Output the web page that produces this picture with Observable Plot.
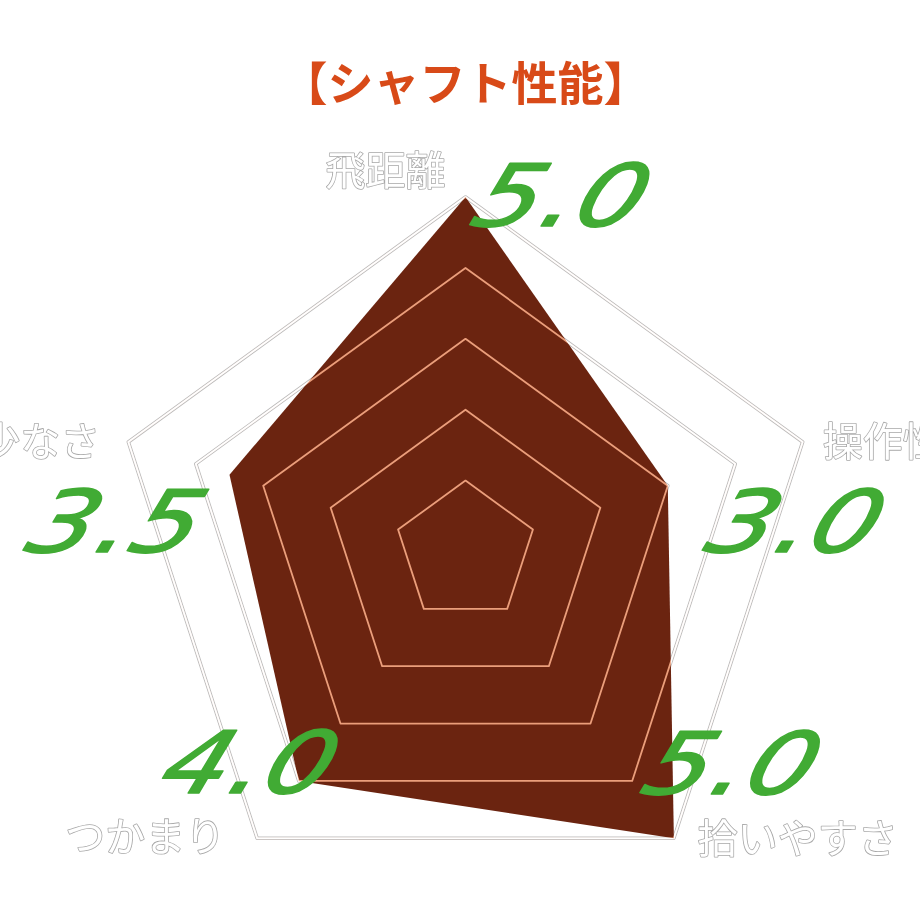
<!DOCTYPE html>
<html>
<head>
<meta charset="utf-8">
<script src="https://cdn.jsdelivr.net/npm/d3@7"></script>
<script src="https://cdn.jsdelivr.net/npm/@observablehq/plot@0.6"></script>
<style>
  html, body { margin: 0; padding: 0; background: #ffffff; }
  #chart svg { display: block; }
</style>
</head>
<body>
<div id="chart"></div>
<script>
// ---- data ----
const title = "【シャフト性能】";
const axes = ["飛距離", "操作性", "拾いやすさ", "つかまり", "スピンの少なさ"];
const values = [5.0, 3.0, 5.0, 4.0, 3.5];
const valueLabels = ["5.0", "3.0", "5.0", "4.0", "3.5"];
const ringLevels = [1, 2, 3, 4, 5];

// ---- layout (not data) ----
const labelLayout = [
  {dx: -80, dy: -25, anchor: "middle"},
  {dx: 20, dy: 1, anchor: "start"},
  {dx: 24, dy: 2, anchor: "start"},
  {dx: -32, dy: 0, anchor: "end"},
  {dx: -28, dy: 1, anchor: "end"}
];
const valueLayout = [
  {dx: 97, dy: 1},
  {dx: 129, dy: 39},
  {dx: 59, dy: -72},
  {dx: -48, dy: -15},
  {dx: -112, dy: 50}
];

const n = axes.length;
const angle = i => (i * 2 * Math.PI) / n;
const px = (i, r) => r * Math.sin(angle(i));
const py = (i, r) => r * Math.cos(angle(i));

const ringPts = ringLevels.flatMap(lv => axes.map((a, i) => ({ring: lv, x: px(i, lv), y: py(i, lv)})));
const dataPts = axes.map((a, i) => ({axis: a, value: values[i], label: valueLabels[i], x: px(i, values[i]), y: py(i, values[i])}));
const outerMax = d3.max(ringLevels);

// scale: center at (465, 551) pixels, 70.9 px per unit
const unit = 70.9, cx = 465, cy = 551, W = 920, H = 920;

const marks = [
  Plot.line(ringPts, {x: "x", y: "y", z: "ring", curve: "linear-closed", stroke: "#bdbdbd", strokeWidth: 3.6}),
  Plot.line(ringPts, {x: "x", y: "y", z: "ring", curve: "linear-closed", stroke: "#ffffff", strokeWidth: 1.6}),
  Plot.line(dataPts, {x: "x", y: "y", curve: "linear-closed", fill: "#6b2410", stroke: "none"}),
  Plot.line(ringPts, {x: "x", y: "y", z: "ring", curve: "linear-closed", stroke: "#dc8e72", strokeWidth: 1.8, mixBlendMode: "screen"}),
  Plot.text([title], {frameAnchor: "top", dx: 5, dy: 85, lineAnchor: "middle", fill: "#d84a18", fontSize: 46, fontWeight: "bold", fontFamily: "Noto Sans CJK JP"})
];

axes.forEach((a, i) => {
  const L = labelLayout[i];
  marks.push(Plot.text([{axis: a, x: px(i, outerMax), y: py(i, outerMax)}], {
    x: "x", y: "y", text: "axis", dx: L.dx, dy: L.dy, textAnchor: L.anchor, lineAnchor: "middle",
    fill: "#ffffff", stroke: "#a8a8a8", strokeWidth: 1.6, fontSize: 40, fontFamily: "Noto Sans CJK JP"
  }));
});

dataPts.forEach((d, i) => {
  const L = valueLayout[i];
  marks.push(Plot.text([d], {
    x: "x", y: "y", text: "label", dx: L.dx, dy: L.dy, lineAnchor: "middle",
    fill: "#41ab34", stroke: "#41ab34", strokeWidth: 1.6, strokeLinejoin: "round", fontSize: 86, fontStyle: "italic",
    fontFamily: "DejaVu Sans"
  }));
});

const chart = Plot.plot({
  width: W, height: H, margin: 0,
  x: {domain: [-cx / unit, (W - cx) / unit], axis: null},
  y: {domain: [-(H - cy) / unit, cy / unit], axis: null},
  style: {background: "#ffffff", overflow: "visible"},
  marks
});
const labelSet = new Set(valueLabels);
d3.select(chart).selectAll("text").filter(function () {
  return labelSet.has(this.textContent) && this.getAttribute("transform");
}).each(function () {
  const t = d3.select(this);
  t.attr("letter-spacing", "1px");
  t.attr("transform", t.attr("transform") + " skewX(-20) scale(1.22,1)");
});
document.getElementById("chart").appendChild(chart);
</script>
</body>
</html>
